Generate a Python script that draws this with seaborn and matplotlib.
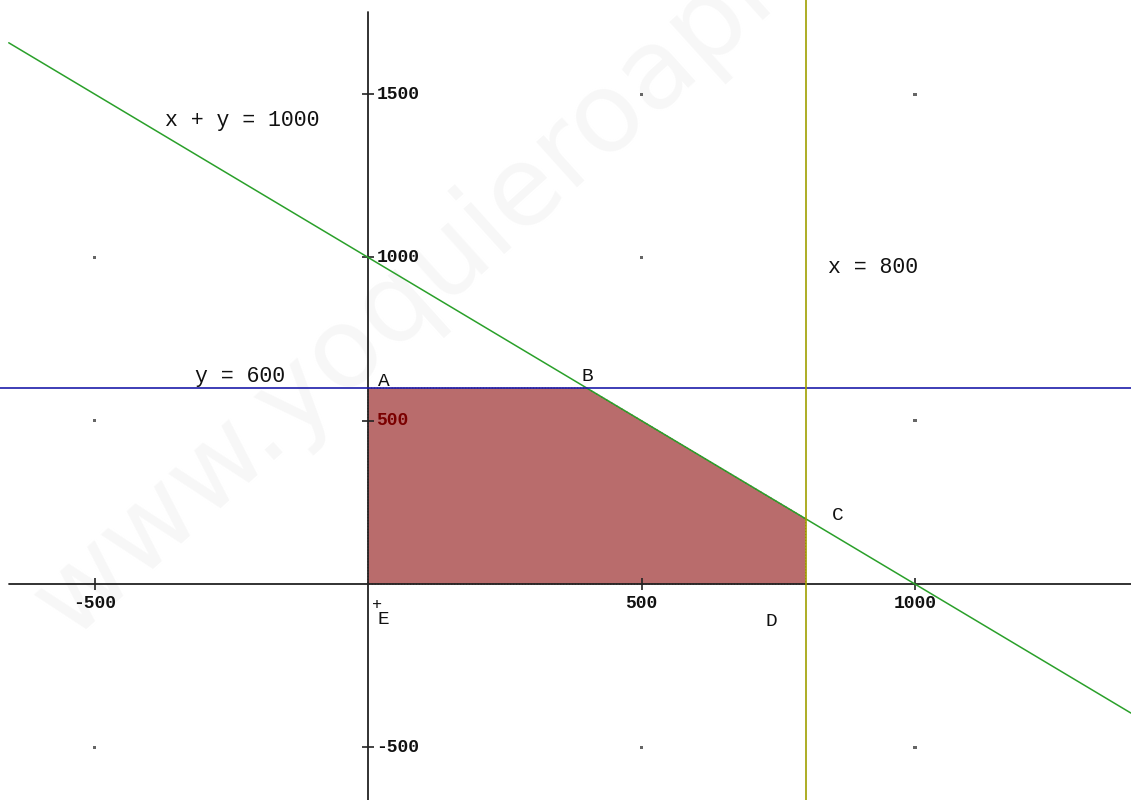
import numpy as np
import matplotlib
matplotlib.use("Agg")
import matplotlib.pyplot as plt
import seaborn as sns

# constraints  x + y = 1000, y = 600, x = 800
sum_limit = 1000
y_limit = 600
x_limit = 800

# feasible region vertices A B C D E
region_x = [0, 400, 800, 800, 0]
region_y = [600, 600, 200, 0, 0]
vertex_names = ["A", "B", "C", "D", "E"]

# axis ticks
xticks = [-500, 500, 1000]
yticks = [1500, 1000, 500, -500]
grid_x = [-500, 500, 1000]
grid_y = [-500, 500, 1000, 1500]

sns.set_style("white")
plt.rcParams['font.family'] = ['Liberation Mono', 'DejaVu Sans Mono']

xlim = (-673, 1395)
ylim = (-661, 1788)

fig = plt.figure(figsize=(11.31, 8), dpi=100)
ax = fig.add_axes([0, 0, 1, 1])
ax.set_xlim(xlim)
ax.set_ylim(ylim)
ax.axis("off")

# watermark
ax.text(-545, -171, "www.yoquieroaprobar.es", rotation=42, rotation_mode="anchor",
        fontsize=80, color="#f7f7f7", family="DejaVu Sans", zorder=0)

# grid dots (skip those covered by lines, region or the x = 800 label)
gx, gy = [], []
for x in grid_x:
    for y in grid_y:
        if x + y == sum_limit or (x > 0 and x + y < sum_limit and y > 0):
            continue
        if (x, y) == (1000, 1000):
            continue
        gx.append(x)
        gy.append(y)
sns.scatterplot(x=gx, y=gy, marker="s", s=5, color="#666666", edgecolor="none", ax=ax, zorder=1)

# feasible region
ax.fill(region_x, region_y, facecolor="#b96c6c", edgecolor="#7a0000", lw=0.8,
        linestyle=":", zorder=2)

# axes
ax.plot([-657, xlim[1]], [0, 0], color="#222222", lw=1.3, zorder=3)
ax.plot([0, 0], [ylim[0], 1750], color="#222222", lw=1.3, zorder=3)
ax.plot(xticks, [0] * len(xticks), ls="none", marker="|", ms=8, mew=1.2, color="#222222", zorder=3)
ax.plot([0] * len(yticks), yticks, ls="none", marker="_", ms=8, mew=1.2, color="#222222", zorder=3)

# constraint lines
line_x = np.array([-657, xlim[1]])
sns.lineplot(x=line_x, y=sum_limit - line_x, color="#2aa02a", lw=1.1, ax=ax, zorder=4)
ax.axhline(y_limit, color="#1c1caa", lw=1.2, zorder=4)
ax.axvline(x_limit, color="#a0a000", lw=1.2, zorder=4)

# tick labels
tick_font = dict(fontsize=13, fontweight="bold")
for t in xticks:
    ax.text(t, -60, str(t), ha="center", va="center", color="#111111", **tick_font)
for t in yticks:
    col = "#7a0000" if t == 500 else "#111111"
    ax.text(15, t, str(t), ha="left", va="center", color=col, **tick_font)

# constraint labels
lab_font = dict(fontsize=15.5, color="#111111", va="center")
ax.text(-371, 1420, "x + y = 1000", **lab_font)
ax.text(841, 970, "x = 800", **lab_font)
ax.text(-316, 634, "y = 600", **lab_font)

# vertex labels
vertex_pos = {"A": (18, 621), "B": (390, 634), "C": (848, 211), "D": (726, -116), "E": (18, -108)}
for name in vertex_names:
    px, py = vertex_pos[name]
    ax.text(px, py, name, fontsize=14, color="#111111", va="center")
ax.text(7, -62, "+", fontsize=12, color="#111111", va="center")

fig.savefig("out.png", dpi=100)
